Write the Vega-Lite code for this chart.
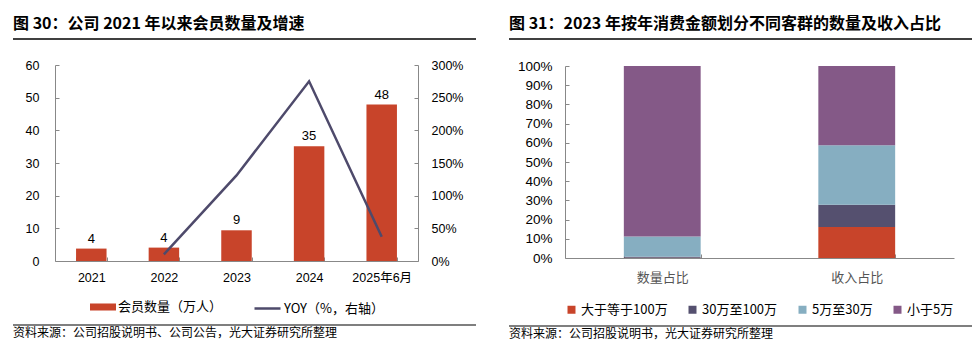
{
  "$schema": "https://vega.github.io/schema/vega-lite/v6.json",
  "padding": {"left": 12, "top": 16, "right": 0, "bottom": 0},
  "background": "white",
  "config": {
    "view": {"stroke": null},
    "font": "Liberation Sans",
    "legend": {"layout": {"bottom": {"anchor": "middle", "direction": "horizontal", "margin": 30}}}
  },
  "columns": 2,
  "align": "none",
  "spacing": {"row": 8, "column": 31},
  "resolve": {"scale": {"color": "independent", "fill": "independent", "stroke": "independent"}},
  "concat": [
    {
      "width": 421,
      "height": 12,
      "data": {"values": [{}]},
      "title": {"text": "图 30：公司 2021 年以来会员数量及增速", "anchor": "start", "frame": "group", "dx": -42, "font": "Noto Sans CJK SC", "fontSize": 16, "fontWeight": "bold", "color": "#000000", "offset": 6},
      "mark": {"type": "rule", "color": "#000000", "strokeWidth": 1.5},
      "encoding": {
        "x": {"datum": 0, "type": "quantitative", "scale": {"domain": [0, 1], "range": [-42, 421]}, "axis": null},
        "x2": {"datum": 1},
        "y": {"datum": 1, "type": "quantitative", "scale": {"domain": [0, 1]}, "axis": null}
      }
    },
    {
      "width": 463,
      "height": 12,
      "data": {"values": [{}]},
      "title": {"text": "图 31：2023 年按年消费金额划分不同客群的数量及收入占比", "anchor": "start", "frame": "group", "font": "Noto Sans CJK SC", "fontSize": 16, "fontWeight": "bold", "color": "#000000", "offset": 6},
      "mark": {"type": "rule", "color": "#000000", "strokeWidth": 1.5},
      "encoding": {"y": {"datum": 1, "type": "quantitative", "scale": {"domain": [0, 1]}, "axis": null}}
    },
    {
      "width": 363,
      "height": 196,
      "data": {
        "values": [
          {"year": "2021", "members": 3.8, "yoy": null},
          {"year": "2022", "members": 4.1, "yoy": 0.10},
          {"year": "2023", "members": 9.4, "yoy": 1.31},
          {"year": "2024", "members": 35.1, "yoy": 2.75},
          {"year": "2025年6月", "members": 47.9, "yoy": 0.37}
        ]
      },
      "encoding": {
        "x": {
          "field": "year", "type": "nominal", "sort": null,
          "scale": {"paddingInner": 0.58, "paddingOuter": 0.29},
          "axis": {"title": null, "labelAngle": 0, "domainColor": "#888888", "tickColor": "#888888", "tickBand": "extent", "tickSize": -4, "labelPadding": 14, "labelFont": "Liberation Sans, Noto Sans CJK SC", "labelFontSize": 12.5, "labelColor": "#000000"}
        }
      },
      "layer": [
        {
          "encoding": {
            "y": {
              "field": "members", "type": "quantitative",
              "scale": {"domain": [0, 60]},
              "axis": {"orient": "left", "title": null, "values": [0, 10, 20, 30, 40, 50, 60], "grid": false, "domainColor": "#888888", "tickColor": "#888888", "tickSize": -4, "labelPadding": 20, "minExtent": 42, "maxExtent": 42, "labelFont": "Liberation Sans", "labelFontSize": 12.5, "labelColor": "#000000"}
            }
          },
          "layer": [
            {
              "mark": {"type": "bar"},
              "encoding": {
                "fill": {"datum": "会员数量（万人）", "type": "nominal", "scale": {"range": ["#C8442A"]},
                  "legend": {"orient": "bottom", "direction": "horizontal", "title": null, "symbolType": "M-1,-0.27L1,-0.27L1,0.27L-1,0.27Z", "symbolSize": 676, "symbolStrokeWidth": 0, "labelFont": "Noto Sans CJK SC", "labelFontSize": 13, "labelColor": "#000000", "labelOffset": 2, "offset": 10}}
              }
            },
            {
              "mark": {"type": "text", "baseline": "bottom", "dy": -3, "fontSize": 13, "font": "Liberation Sans", "color": "#000000"},
              "encoding": {"text": {"field": "members", "type": "quantitative", "format": ".0f"}}
            }
          ]
        },
        {
          "mark": {"type": "line", "strokeWidth": 2.5},
          "encoding": {
            "y": {
              "field": "yoy", "type": "quantitative",
              "scale": {"domain": [0, 3]},
              "axis": {"orient": "right", "title": null, "values": [0, 0.5, 1, 1.5, 2, 2.5, 3], "format": ".0%", "grid": false, "domainColor": "#888888", "tickColor": "#888888", "tickSize": -4, "labelPadding": 17, "minExtent": 58, "maxExtent": 58, "labelFont": "Liberation Sans", "labelFontSize": 12.5, "labelColor": "#000000"}
            },
            "stroke": {"datum": "YOY（%，右轴）", "type": "nominal", "scale": {"range": ["#4E4A6B"]},
              "legend": {"orient": "bottom", "direction": "horizontal", "title": null, "symbolType": "stroke", "symbolSize": 676, "symbolStrokeWidth": 2.5, "labelFont": "Noto Sans CJK SC", "labelFontSize": 13, "labelColor": "#000000", "labelOffset": 2, "offset": 10}}
          }
        }
      ],
      "resolve": {"scale": {"y": "independent"}}
    },
    {
      "width": 389,
      "height": 192,
      "data": {
        "values": [
          {"cat": "数量占比", "group": "大于等于100万", "value": 0.001, "order": 1},
          {"cat": "数量占比", "group": "30万至100万", "value": 0.006, "order": 2},
          {"cat": "数量占比", "group": "5万至30万", "value": 0.105, "order": 3},
          {"cat": "数量占比", "group": "小于5万", "value": 0.888, "order": 4},
          {"cat": "收入占比", "group": "大于等于100万", "value": 0.162, "order": 1},
          {"cat": "收入占比", "group": "30万至100万", "value": 0.115, "order": 2},
          {"cat": "收入占比", "group": "5万至30万", "value": 0.31, "order": 3},
          {"cat": "收入占比", "group": "小于5万", "value": 0.413, "order": 4}
        ]
      },
      "mark": {"type": "bar"},
      "encoding": {
        "x": {
          "field": "cat", "type": "nominal", "sort": ["数量占比", "收入占比"],
          "scale": {"paddingInner": 0.605, "paddingOuter": 0.3025},
          "axis": {"title": null, "labelAngle": 0, "domainColor": "#888888", "tickColor": "#888888", "tickBand": "extent", "tickSize": -4, "labelPadding": 17, "labelFont": "Noto Sans CJK SC", "labelFontSize": 13, "labelColor": "#555555"}
        },
        "y": {
          "field": "value", "type": "quantitative", "stack": "zero",
          "scale": {"domain": [0, 1]},
          "axis": {"title": null, "values": [0, 0.1, 0.2, 0.3, 0.4, 0.5, 0.6, 0.7, 0.8, 0.9, 1], "format": ".0%", "grid": false, "domainColor": "#888888", "tickColor": "#888888", "tickSize": -4, "labelPadding": 17, "minExtent": 57, "maxExtent": 57, "labelFont": "Liberation Sans", "labelFontSize": 13.5, "labelColor": "#000000"}
        },
        "color": {
          "field": "group", "type": "nominal",
          "scale": {"domain": ["大于等于100万", "30万至100万", "5万至30万", "小于5万"], "range": ["#C8442A", "#55506F", "#86AEC1", "#845987"]},
          "legend": {"orient": "bottom", "direction": "horizontal", "title": null, "symbolType": "square", "symbolSize": 64, "symbolStrokeWidth": 0, "labelFont": "Noto Sans CJK SC", "labelFontSize": 13, "labelColor": "#000000", "labelOffset": 3, "columnPadding": 18, "offset": 19}
        },
        "order": {"field": "order", "type": "quantitative"}
      }
    },
    {
      "width": 421,
      "height": 1,
      "data": {"values": [{}]},
      "title": {"text": "资料来源：公司招股说明书、公司公告，光大证券研究所整理", "orient": "bottom", "anchor": "start", "frame": "group", "dx": -42, "baseline": "top", "font": "Noto Sans CJK SC", "fontSize": 12, "fontWeight": "normal", "color": "#000000", "offset": 2},
      "mark": {"type": "rule", "color": "#000000", "strokeWidth": 1.2},
      "encoding": {
        "x": {"datum": 0, "type": "quantitative", "scale": {"domain": [0, 1], "range": [-42, 421]}, "axis": null},
        "x2": {"datum": 1},
        "y": {"datum": 1, "type": "quantitative", "scale": {"domain": [0, 1]}, "axis": null}
      }
    },
    {
      "width": 463,
      "height": 1,
      "data": {"values": [{}]},
      "title": {"text": "资料来源：公司招股说明书，光大证券研究所整理", "orient": "bottom", "anchor": "start", "frame": "group", "baseline": "top", "font": "Noto Sans CJK SC", "fontSize": 12, "fontWeight": "normal", "color": "#000000", "offset": 2},
      "mark": {"type": "rule", "color": "#000000", "strokeWidth": 1.2},
      "encoding": {"y": {"datum": 1, "type": "quantitative", "scale": {"domain": [0, 1]}, "axis": null}}
    }
  ]
}
